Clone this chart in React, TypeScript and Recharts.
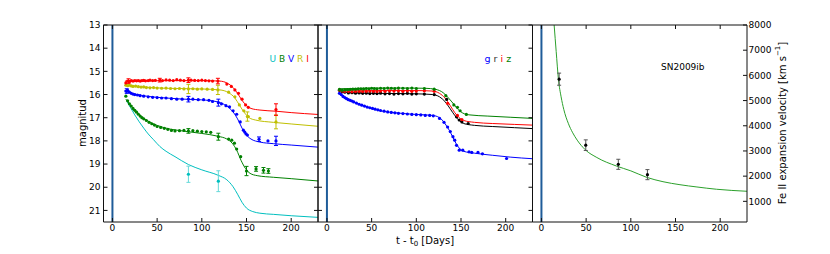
import React from 'react';
import { ComposedChart, Line, Scatter, XAxis, YAxis, ReferenceLine, ErrorBar } from 'recharts';

type P = [number, number];
type E = [number, number, number];

const dayTicks = [0, 50, 100, 150, 200];
const magTicks = [13, 14, 15, 16, 17, 18, 19, 20, 21];
const velTicks = [1000, 2000, 3000, 4000, 5000, 6000, 7000, 8000];

// ---------- Left panel: U B V R I ----------
const I_pts: P[] = [[15,15.5],[17,15.42],[19,15.45],[21,15.4],[23,15.42],[25,15.4],[27,15.41],[29,15.4],[31,15.42],[33,15.4],[35,15.39],[37,15.41],[40,15.4],[42,15.38],[45,15.4],[48,15.39],[56,15.4],[60,15.37],[64,15.38],[68,15.4],[72,15.36],[76,15.38],[80,15.4],[88,15.38],[92,15.39],[96,15.4],[100,15.38],[104,15.4],[108,15.41],[112,15.42],[128,15.55],[133,15.65],[137,15.8],[141,15.95],[145,16.2],[149,16.45],[152,16.55]];
const I_err: E[] = [[18,15.42,0.1],[53,15.38,0.08],[85,15.38,0.1],[118,15.42,0.12],[183,16.65,0.25]];
const I_fit: P[] = [[14,15.42],[30,15.41],[60,15.4],[100,15.4],[120,15.42],[128,15.5],[135,15.7],[140,15.95],[145,16.25],[150,16.48],[155,16.6],[165,16.67],[183,16.72],[200,16.78],[230,16.86]];

const R_pts: P[] = [[15,15.6],[17,15.62],[19,15.6],[21,15.63],[23,15.65],[26,15.64],[29,15.66],[32,15.68],[35,15.67],[38,15.7],[42,15.71],[46,15.7],[50,15.72],[55,15.73],[60,15.72],[65,15.74],[70,15.75],[75,15.74],[80,15.76],[90,15.75],[95,15.77],[100,15.76],[106,15.77],[112,15.78],[130,15.9],[137,16.1],[142,16.45],[147,16.7],[152,16.95],[165,17.03]];
const R_err: E[] = [[85,15.76,0.2],[118,15.8,0.2],[151,16.95,0.2],[183,17.18,0.3]];
const R_fit: P[] = [[14,15.58],[30,15.66],[60,15.73],[100,15.76],[120,15.8],[130,15.92],[137,16.15],[142,16.45],[148,16.8],[153,17.0],[160,17.1],[180,17.2],[200,17.27],[230,17.37]];

const V_pts: P[] = [[15,15.85],[17,15.82],[19,15.9],[21,15.95],[23,15.98],[25,16.0],[28,16.02],[31,16.05],[35,16.07],[40,16.1],[45,16.12],[50,16.13],[55,16.15],[60,16.15],[66,16.18],[72,16.2],[78,16.2],[90,16.2],[96,16.22],[102,16.22],[108,16.25],[112,16.3],[122,16.4],[127,16.48],[131,16.53],[135,16.7],[139,16.85],[143,17.18],[146.5,17.54],[148,17.62],[149.5,17.7],[151,17.75],[174,18.0]];
const V_err: E[] = [[16,15.85,0.1],[85,16.2,0.12],[118.5,16.35,0.15],[164,17.93,0.1],[183,18.0,0.2]];
const V_fit: P[] = [[14,15.85],[25,15.98],[40,16.08],[60,16.15],[80,16.2],[100,16.23],[118,16.32],[128,16.5],[135,16.75],[140,17.05],[145,17.45],[150,17.75],[155,17.92],[165,18.05],[180,18.12],[200,18.18],[230,18.27]];

const B_pts: P[] = [[15,16.07],[17,16.27],[19,16.4],[21,16.5],[23,16.6],[25,16.68],[27,16.76],[29,16.85],[31,16.93],[33,17.0],[35,17.05],[38,17.12],[41,17.2],[44,17.26],[47,17.32],[50,17.38],[54,17.42],[58,17.46],[62,17.5],[66,17.55],[70,17.57],[75,17.56],[80,17.55],[90,17.56],[95,17.58],[100,17.6],[105,17.61],[110,17.63],[130,17.92],[133.5,17.97],[136.5,18.1],[139,18.35],[143.5,18.68]];
const B_err: E[] = [[85,17.57,0.1],[118.5,17.82,0.15],[150,19.3,0.2],[160.7,19.21,0.1],[169,19.27,0.12],[174.5,19.3,0.1]];
const B_fit: P[] = [[15,16.2],[20,16.45],[25,16.68],[30,16.88],[40,17.15],[50,17.33],[60,17.45],[80,17.58],[100,17.68],[118,17.8],[128,17.92],[134,18.1],[139,18.4],[144,18.85],[149,19.2],[154,19.4],[162,19.5],[180,19.57],[200,19.63],[230,19.73]];

const U_err: E[] = [[85,19.44,0.35],[118.5,19.74,0.45]];
const U_fit: P[] = [[16,16.27],[20,16.55],[25,16.88],[30,17.18],[35,17.45],[40,17.7],[46,17.95],[53,18.24],[60,18.45],[70,18.68],[85,19.02],[100,19.25],[118,19.48],[128,19.68],[135,19.98],[140,20.3],[145,20.65],[150,20.9],[157,21.05],[165,21.12],[180,21.17],[200,21.23],[230,21.3]];

// ---------- Middle panel: g r i z ----------
const g_pts: P[] = [[14,15.95],[16,16.0],[18,16.08],[20,16.13],[22,16.18],[24,16.22],[26,16.25],[28,16.28],[30,16.32],[33,16.37],[36,16.42],[39,16.46],[42,16.5],[45,16.54],[48,16.57],[51,16.6],[54,16.63],[57,16.66],[60,16.69],[64,16.72],[68,16.75],[72,16.77],[76,16.79],[80,16.81],[85,16.82],[90,16.84],[95,16.86],[100,16.87],[105,16.88],[110,16.9],[115,16.9],[119,16.92],[126,17.03],[131,17.2],[135,17.4],[138,17.6],[141,17.82],[143,17.97],[145,18.19],[148,18.4],[152,18.4],[159,18.47],[162,18.5],[169,18.5],[174,18.56],[201,18.76]];
const g_fit: P[] = [[14,15.95],[20,16.15],[30,16.33],[45,16.54],[60,16.7],[80,16.8],[100,16.86],[118,16.9],[126,17.0],[132,17.25],[137,17.55],[141,17.85],[145,18.15],[149,18.35],[153,18.45],[165,18.53],[185,18.62],[205,18.7],[230,18.77]];

const z_pts: P[] = [[14,15.78],[17,15.82],[20,15.8],[23,15.79],[26,15.78],[29,15.77],[32,15.77],[35,15.76],[38,15.75],[41,15.76],[44,15.74],[47,15.75],[50,15.73],[53,15.74],[56,15.75],[60,15.73],[64,15.74],[68,15.72],[72,15.73],[76,15.74],[80,15.72],[85,15.73],[90,15.74],[95,15.72],[100,15.74],[109,15.74],[120,15.77],[133,16.05],[142,16.45],[146,16.55],[149,16.7],[156,16.86]];
const z_fit: P[] = [[14,15.75],[30,15.74],[60,15.72],[90,15.72],[110,15.73],[122,15.78],[130,15.92],[136,16.15],[142,16.42],[147,16.65],[152,16.8],[160,16.88],[180,16.93],[205,16.98],[230,17.03]];

const i_pts: P[] = [[14,15.8],[17,15.85],[20,15.87],[24,15.86],[28,15.88],[32,15.87],[36,15.86],[40,15.87],[44,15.86],[48,15.85],[52,15.86],[56,15.87],[60,15.85],[65,15.86],[70,15.84],[75,15.85],[80,15.84],[85,15.86],[90,15.84],[95,15.86],[100,15.85],[109,15.84],[120,15.86],[135,16.38],[146,16.9],[151,17.08]];
const i_fit: P[] = [[14,15.8],[30,15.84],[60,15.83],[100,15.83],[118,15.85],[126,15.95],[132,16.15],[138,16.48],[143,16.78],[148,17.0],[153,17.12],[165,17.2],[185,17.25],[210,17.29],[230,17.32]];

const r_pts: P[] = [[14,15.82],[17,15.88],[20,15.9],[24,15.93],[28,15.92],[32,15.94],[36,15.93],[40,15.95],[44,15.94],[48,15.96],[52,15.95],[56,15.96],[60,15.94],[65,15.97],[70,15.96],[75,15.98],[80,15.96],[85,15.97],[90,15.95],[95,15.98],[100,15.97],[109,15.98],[120,16.0],[134,16.21],[145,16.96],[148,17.1],[151,17.18],[158,17.25]];
const r_fit: P[] = [[14,15.82],[25,15.92],[60,15.95],[100,15.97],[118,16.0],[126,16.1],[132,16.3],[138,16.62],[143,16.9],[148,17.12],[153,17.25],[165,17.33],[185,17.38],[210,17.43],[230,17.47]];

// ---------- Right panel: Fe II velocity ----------
const vel_fit: P[] = [[14.2,8000],[16.5,6950],[19,5850],[22,5150],[25,4650],[30,4100],[35,3720],[40,3430],[49,3050],[62,2740],[84,2400],[100,2210],[118,1950],[136,1780],[155,1660],[174,1570],[196,1480],[230,1400]];
const vel_pts: E[] = [[19.8,5850,240],[49.6,3230,210],[86,2470,200],[118.6,2060,200]];

const COL = { c: '#00bfbf', g: '#008000', b: '#0000ff', y: '#bfbf00', r: '#ff0000', k: '#000000', vg: '#2ca02c' };
const FONT = 'DejaVu Sans, sans-serif';

const pts = (a: P[]) => a.map(([t, m]) => ({ t, m }));
const errs = (a: E[]) => a.map(([t, m, e]) => ({ t, m, e }));

const TOP = 25, BOT = 222, W = 830, H = 254;
const tickStyle = { fontSize: 9, fill: '#000', fontFamily: FONT };
const axLine = { stroke: '#111', strokeWidth: 1 };
const tkLine = { stroke: '#111', strokeWidth: 1 };

function dot(color: string) {
  return (p: any) => <circle cx={p.cx} cy={p.cy} r={1.6} fill={color} />;
}

function frame(opts: { leftLabels: boolean; rightVel: boolean }) {
  const blank = () => '';
  const out: any[] = [
    <XAxis key="xb" xAxisId="b" type="number" dataKey="t" domain={[-10, 230]} ticks={dayTicks} allowDataOverflow height={1} tickSize={-4} tickMargin={7} interval={0} axisLine={axLine} tickLine={tkLine} tick={tickStyle} />,
    <XAxis key="xt" xAxisId="t" orientation="top" type="number" dataKey="t" domain={[-10, 230]} ticks={dayTicks} allowDataOverflow height={1} tickSize={-4} tickMargin={7} interval={0} axisLine={axLine} tickLine={tkLine} tick={tickStyle} tickFormatter={blank} />,
  ];
  if (opts.rightVel) {
    out.push(<YAxis key="yl" yAxisId="l" type="number" domain={[13, 21.5]} reversed ticks={magTicks} allowDataOverflow width={1} tickSize={-4} tickMargin={7} interval={0} axisLine={axLine} tickLine={false} tick={false} />);
    out.push(<YAxis key="yr" yAxisId="r" orientation="right" type="number" domain={[180, 8000]} ticks={velTicks} allowDataOverflow width={1} tickSize={-4} tickMargin={5.5} interval={0} axisLine={axLine} tickLine={tkLine} tick={{ ...tickStyle, textAnchor: 'start' }} />);
  } else {
    out.push(<YAxis key="yl" yAxisId="l" type="number" domain={[13, 21.5]} reversed ticks={magTicks} allowDataOverflow width={1} tickSize={-4} tickMargin={7} interval={0} axisLine={axLine} tickLine={tkLine} tick={tickStyle} tickFormatter={opts.leftLabels ? undefined : blank} />);
    out.push(<YAxis key="yr" yAxisId="r" orientation="right" type="number" domain={[13, 21.5]} reversed ticks={magTicks} allowDataOverflow width={1} tickSize={-4} tickMargin={7} interval={0} axisLine={axLine} tickLine={tkLine} tick={tickStyle} tickFormatter={blank} />);
  }
  return out;
}

function fit(key: string, data: P[], color: string, yId = 'l') {
  return <Line key={key} xAxisId="b" yAxisId={yId} data={pts(data)} dataKey="m" type="monotone" stroke={color} strokeWidth={1} dot={false} isAnimationActive={false} />;
}
function sc(key: string, data: P[], color: string) {
  return <Scatter key={key} xAxisId="b" yAxisId="l" data={pts(data)} dataKey="m" fill={color} shape={dot(color)} isAnimationActive={false} />;
}
function scErr(key: string, data: E[], color: string, ecolor: string, yId = 'l') {
  return (
    <Scatter key={key} xAxisId="b" yAxisId={yId} data={errs(data)} dataKey="m" fill={color} shape={dot(color)} isAnimationActive={false}>
      <ErrorBar dataKey="e" direction="y" width={2} stroke={ecolor} strokeWidth={1} />
    </Scatter>
  );
}

const abs: React.CSSProperties = { position: 'absolute', left: 0, top: 0 };
const t0Line = (k: string) => <ReferenceLine key={k} xAxisId="b" yAxisId="l" x={0} stroke="#1f5c99" strokeWidth={2} />;

export default function App() {
  // axes take 1px each side; subtract so the plot area lands where intended
  const m = (l: number, r: number) => ({ top: TOP - 1, bottom: H - BOT - 1, left: l - 1, right: W - r - 1 });
  return (
    <div style={{ position: 'absolute', left: 0, top: 0, width: W, height: H, background: '#fff' }}>
      <div style={abs}>
        <ComposedChart width={W} height={H} margin={m(103.5, 318)}>
          {frame({ leftLabels: true, rightVel: false })}
          {t0Line('t0')}
          {fit('Uf', U_fit, COL.c)}
          {fit('Bf', B_fit, COL.g)}
          {fit('Vf', V_fit, COL.b)}
          {fit('Rf', R_fit, COL.y)}
          {fit('If', I_fit, COL.r)}
          {scErr('Ue', U_err, COL.c, '#66d9d9')}
          {sc('Bp', B_pts, COL.g)}
          {scErr('Be', B_err, COL.g, COL.g)}
          {sc('Vp', V_pts, COL.b)}
          {scErr('Ve', V_err, COL.b, COL.b)}
          {sc('Rp', R_pts, COL.y)}
          {scErr('Re', R_err, COL.y, COL.y)}
          {sc('Ip', I_pts, COL.r)}
          {scErr('Ie', I_err, COL.r, COL.r)}
        </ComposedChart>
      </div>
      <div style={abs}>
        <ComposedChart width={W} height={H} margin={m(318, 532.5)}>
          {frame({ leftLabels: false, rightVel: false })}
          {t0Line('t0')}
          {fit('gf', g_fit, COL.b)}
          {fit('rf', r_fit, COL.k)}
          {fit('if', i_fit, COL.r)}
          {fit('zf', z_fit, COL.g)}
          {sc('gp', g_pts, COL.b)}
          {sc('rp', r_pts, COL.k)}
          {sc('ip', i_pts, COL.r)}
          {sc('zp', z_pts, COL.g)}
        </ComposedChart>
      </div>
      <div style={abs}>
        <ComposedChart width={W} height={H} margin={m(532.5, 747)}>
          {frame({ leftLabels: false, rightVel: true })}
          {t0Line('t0')}
          {fit('vf', vel_fit, COL.vg, 'r')}
          {scErr('ve', vel_pts, COL.k, '#555', 'r')}
        </ComposedChart>
      </div>
      <svg style={abs} width={W} height={H} fontFamily={FONT}>
        <text x={82} y={123} fontSize={10} textAnchor="middle" dominantBaseline="central" transform="rotate(-90 82 123)">magnitud</text>
        <text x={425} y={243.5} fontSize={10} textAnchor="middle">
          t - t<tspan fontSize={7} dy={2}>0</tspan><tspan dy={-2}> [Days]</tspan>
        </text>
        <text x={782} y={123} fontSize={10} textAnchor="middle" dominantBaseline="central" transform="rotate(-90 782 123)">
          Fe II expansion velocity [km s<tspan fontSize={7} dy={-4}>−1</tspan><tspan dy={4}>]</tspan>
        </text>
        <text x={269.5} y={61.5} fontSize={9}>
          <tspan fill={COL.c}>U </tspan><tspan fill={COL.g}>B </tspan><tspan fill={COL.b}>V </tspan><tspan fill={COL.y}>R </tspan><tspan fill={COL.r}>I</tspan>
        </text>
        <text x={484.5} y={61.5} fontSize={9.5}>
          <tspan fill={COL.b}>g </tspan><tspan fill="#333">r </tspan><tspan fill={COL.r}>i </tspan><tspan fill={COL.g}>z</tspan>
        </text>
        <text x={661} y={70} fontSize={9}>SN2009ib</text>
      </svg>
    </div>
  );
}
